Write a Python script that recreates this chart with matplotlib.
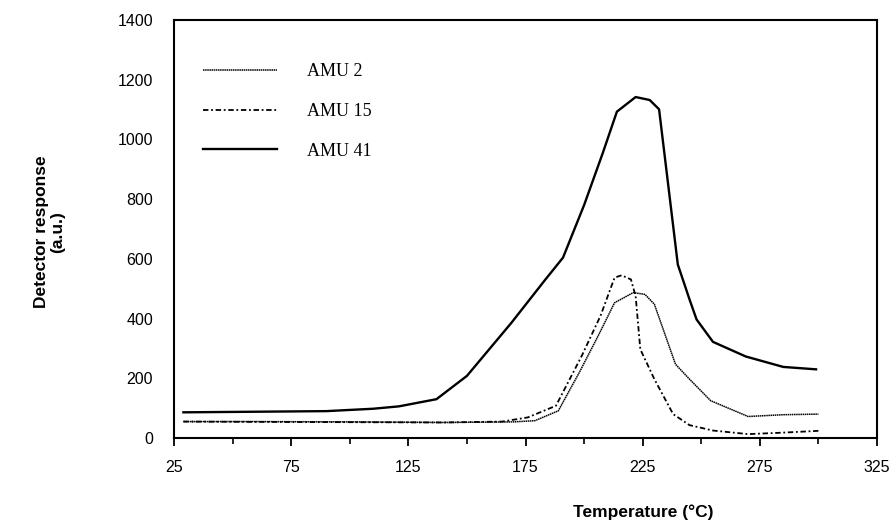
import matplotlib
matplotlib.use("Agg")
import matplotlib.pyplot as plt
from matplotlib.lines import Line2D

# ---- data ----
t_amu2 = [29, 60, 100, 140, 170, 179, 189, 198, 206, 213, 221, 226, 230, 239, 245, 254, 270, 285, 300]
v_amu2 = [55, 55, 54, 52, 54, 58, 91, 220, 342, 453, 487, 481, 448, 247, 197, 125, 72, 78, 80]

t_amu15 = [29, 60, 100, 140, 165, 176, 188, 199, 207, 213, 216, 220, 222, 224, 230, 238, 245, 255, 270, 285, 300]
v_amu15 = [55, 54, 53, 52, 55, 69, 108, 275, 409, 537, 545, 531, 475, 297, 197, 80, 43, 25, 13, 18, 24]

t_amu41 = [29, 60, 90, 110, 121, 137, 150, 169, 183, 191, 200, 208, 214, 222, 228, 232, 240, 245, 248, 255, 269, 285, 299]
v_amu41 = [86, 88, 90, 98, 106, 130, 208, 386, 526, 604, 780, 955, 1093, 1142, 1132, 1101, 581, 464, 397, 322, 273, 238, 230]

labels = ["AMU 2", "AMU 15", "AMU 41"]
x_ticks = [25, 75, 125, 175, 225, 275, 325]
y_ticks = [0, 200, 400, 600, 800, 1000, 1200, 1400]

fig = plt.figure(figsize=(8.94, 5.30), dpi=100)
ax = fig.add_axes([174/894, (530-438)/530, (877-174)/894, (438-20)/530])

styles = [dict(color="black", lw=1.1, ls=(0, (1, 0.4))),
          dict(color="black", lw=1.3, ls=(0, (3, 1.5, 1, 1.5))),
          dict(color="black", lw=1.7, ls="-")]

ax.plot(t_amu2, v_amu2, **styles[0])
ax.plot(t_amu15, v_amu15, **styles[1])
ax.plot(t_amu41, v_amu41, **styles[2])

ax.set_xlim(25, 325)
ax.set_ylim(0, 1400)
ax.set_xticks(x_ticks)
ax.set_xticks(range(50, 325, 50), minor=True)
ax.set_yticks(y_ticks)
for sp in ax.spines.values():
    sp.set_linewidth(1.5)
ax.tick_params(axis="x", which="major", direction="out", length=6, width=1.3,
               labelsize=11.5, pad=10)
ax.tick_params(axis="x", which="minor", direction="out", length=4, width=1.2)
ax.tick_params(axis="y", which="major", direction="in", length=0, width=1.2,
               labelsize=11.5, pad=15)
for lab in ax.get_xticklabels() + ax.get_yticklabels():
    lab.set_fontfamily("Liberation Sans")

# legend
handles = [Line2D([], [], **s) for s in styles]
leg = ax.legend(handles, labels, loc="upper left", bbox_to_anchor=(0.018, 0.935),
                frameon=False, handlelength=4.1, handletextpad=1.65,
                labelspacing=1.25,
                prop={"family": "Liberation Serif", "size": 13})

fig.text(50/894, 1 - 232/530, "Detector response\n(a.u.)", rotation=90,
         ha="center", va="center", fontsize=12.5, fontweight="bold",
         family="Liberation Sans", linespacing=1.1)
fig.text(643/894, 1 - 512/530, "Temperature (°C)", ha="center", va="center",
         fontsize=12.5, fontweight="bold", family="Liberation Sans")

fig.savefig("out.png", dpi=100)
